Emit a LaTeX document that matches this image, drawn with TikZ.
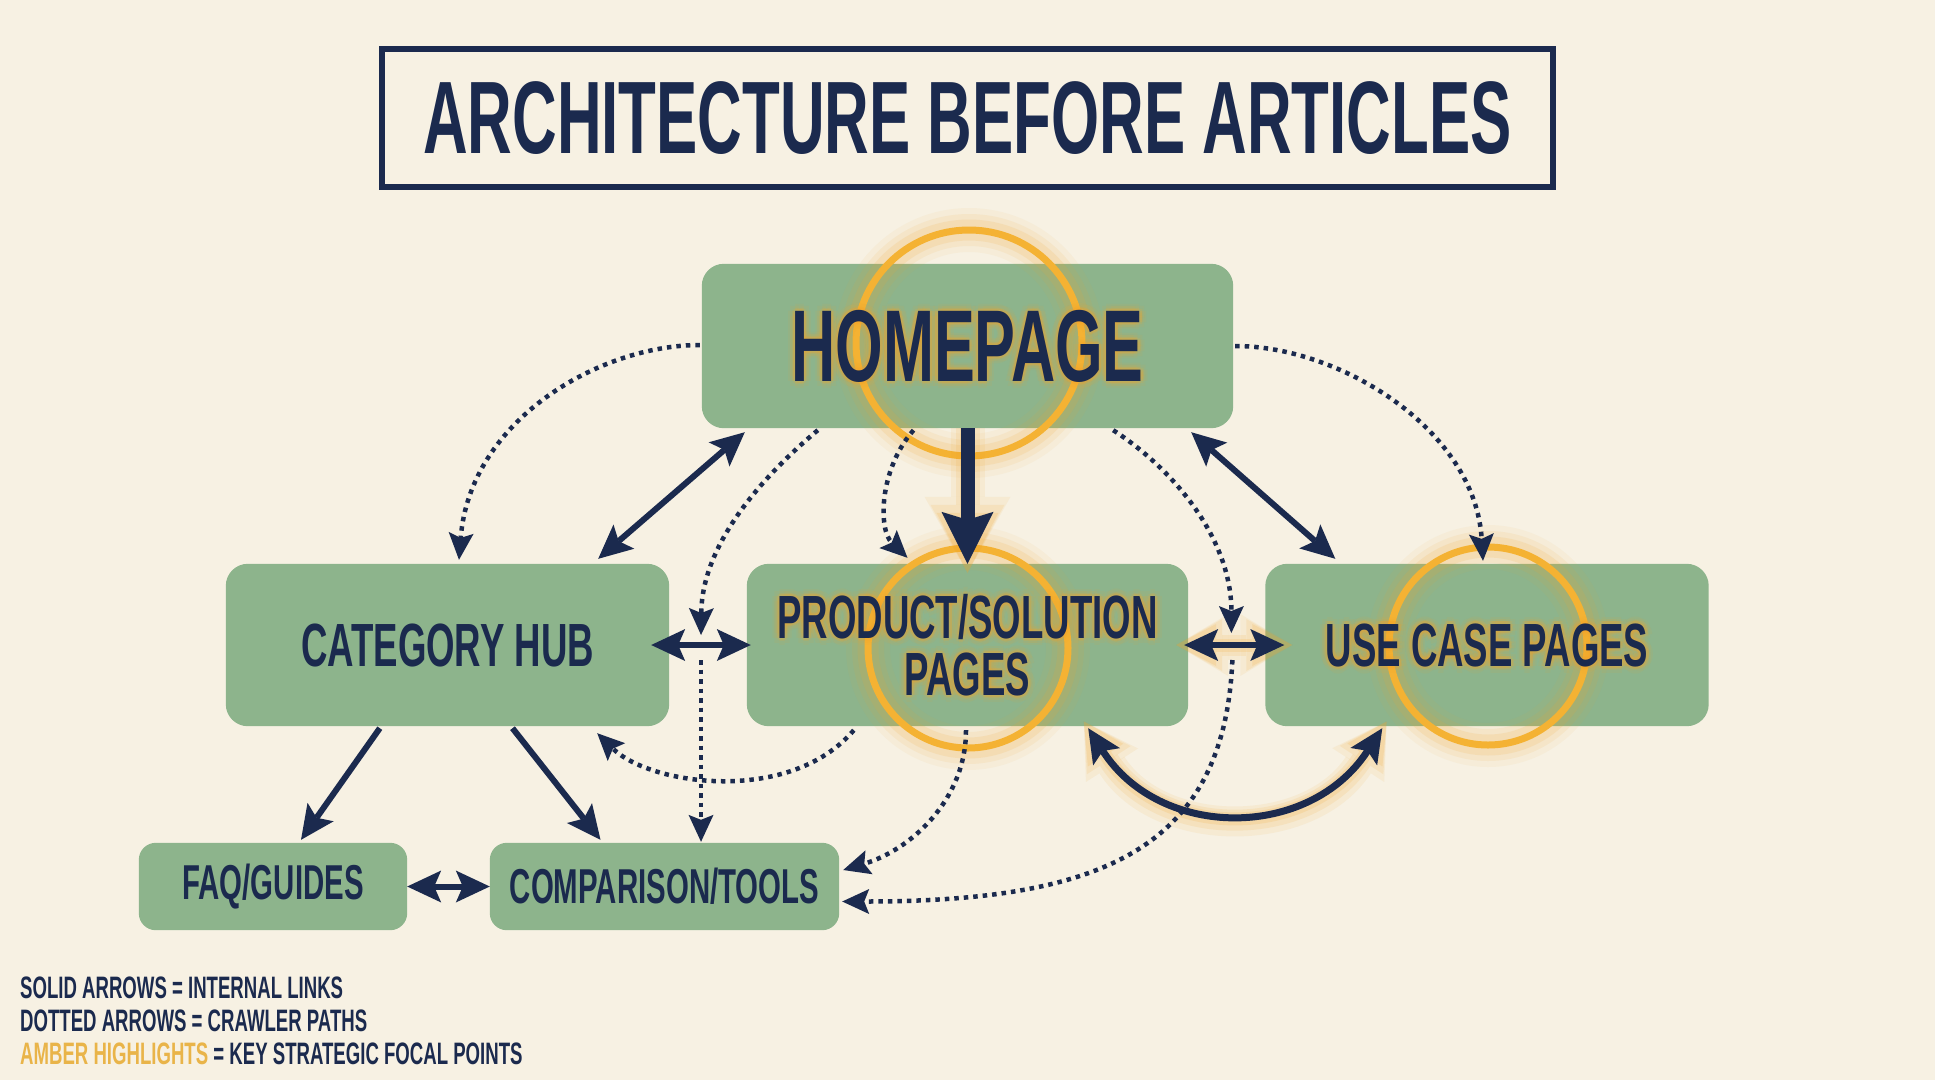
\documentclass[tikz,border=0pt]{standalone}
\usepackage{fontspec}
\newfontfamily\headfont[FakeStretch=0.6]{Liberation Sans}
\usetikzlibrary{arrows.meta,positioning,calc}
\definecolor{paper}{HTML}{F7F1E3}
\definecolor{sage}{HTML}{8DB48C}
\definecolor{navy}{HTML}{1B2A4E}
\definecolor{amber}{HTML}{F4B233}
\definecolor{amberglow}{HTML}{F2A52C}
\definecolor{legendamber}{HTML}{E9B449}
\pgfdeclarelayer{back}
\pgfdeclarelayer{mid}
\pgfsetlayers{back,mid,main}

\begin{document}
\begin{tikzpicture}[x=1pt, y=-1pt,
    >={Stealth[length=34pt,width=32pt,inset=7pt,line width=0pt]},
    boxtext/.style={inner sep=0pt, align=center, text=navy, minimum width=443, minimum height=162,
        font=\headfont\bfseries\fontsize{61}{57}\selectfont},
    smalltext/.style={boxtext, minimum width=268, minimum height=87,
        font=\headfont\bfseries\fontsize{49}{49}\selectfont},
    hometext/.style={boxtext, minimum width=531, minimum height=164,
        font=\headfont\bfseries\fontsize{102}{102}\selectfont},
    link/.style={draw=navy, line width=6pt},
    biglink/.style={draw=navy, line width=14pt, -{Stealth[length=52pt,width=52pt,inset=8pt,line width=0pt]}},
    crawl/.style={draw=navy, line width=4.5pt, dash pattern=on 4.5pt off 5pt,
        -{Stealth[length=27pt,width=25pt,inset=5pt,line width=0pt]}},
    glowln/.style={draw=amberglow, line width=#1, line cap=butt, line join=round},
    glowtext/.style={text=amberglow, opacity=#1}]
    \useasboundingbox (0,0) rectangle (1935,1080);

    % Title
    \node[draw=navy, line width=6pt, minimum width=1171, minimum height=138, inner sep=0pt, text=navy,
        font=\headfont\bfseries\fontsize{103}{103}\selectfont] (title) at (967.5,118) {ARCHITECTURE BEFORE ARTICLES};

    % Page boxes
    \node[hometext] (home) at (967.5,346) {HOMEPAGE};
    \node[boxtext] (cat) at (447.5,645) {CATEGORY HUB};
    \node[boxtext, minimum width=441] (prod) at (967.5,645) {PRODUCT/SOLUTION\\PAGES};
    \node[boxtext] (uc) at (1487,645) {USE CASE PAGES};
    \node[smalltext] (faq) at (273,886.5) {FAQ/GUIDES};
    \node[smalltext, minimum width=349] (comp) at (664.5,886.5) {COMPARISON/TOOLS};

    \coordinate (gapL) at ($(cat.east)!0.41!(prod.west)$);
    \coordinate (gapR) at ($(prod.east)!0.56!(uc.west)$);

    % Legend
    \node[anchor=north west, inner sep=0pt, align=left, text=navy,
        font=\headfont\bfseries\fontsize{31}{33}\selectfont] (legend) at (20,977)
        {SOLID ARROWS = INTERNAL LINKS\\DOTTED ARROWS = CRAWLER PATHS\\{\color{legendamber}AMBER HIGHLIGHTS} = KEY STRATEGIC FOCAL POINTS};

    \begin{pgfonlayer}{back}
        \fill[paper] (0,0) rectangle (1935,1080);
        \foreach \b in {home,cat,prod,uc}
            \fill[sage, rounded corners=22pt] (\b.north west) rectangle (\b.south east);
        \foreach \b in {faq,comp}
            \fill[sage, rounded corners=17pt] (\b.north west) rectangle (\b.south east);
    \end{pgfonlayer}

    \begin{pgfonlayer}{mid}
        % Amber focal circles
        \foreach \c/\dx/\dy/\r in {home/1.5/-3/113, prod/0.5/3/100, uc/1/1/99} {
            \foreach \w/\o in {44/0.06, 32/0.09, 21/0.13}
                \draw[amberglow, line width=\w pt, opacity=\o] ($(\c)+(\dx,\dy)$) circle[radius=\r pt];
            \draw[amber, line width=7pt] ($(\c)+(\dx,\dy)$) circle[radius=\r pt];
        }

        % Glow under key links
        \foreach \w/\o/\l/\s in {34/0.09/76/86, 24/0.12/68/74, 15/0.16/60/62}
            \draw[glowln=\w pt, opacity=\o, -{Triangle[length=\l pt,width=\s pt,line width=0pt]},
                shorten >=-9pt] (home.south) -- (prod.north);
        \foreach \w/\o/\l/\s in {30/0.09/52/62, 21/0.12/46/52, 13/0.16/40/42} {
            \draw[glowln=\w pt, opacity=\o, {Triangle[length=\l pt,width=\s pt,line width=0pt]}-{Triangle[length=\l pt,width=\s pt,line width=0pt]},
                shorten >=-8pt, shorten <=-8pt] ($(prod.east)+(-4,0)$) -- ($(uc.west)+(19,0)$);
            \draw[glowln=\w pt, opacity=\o, {Triangle[length=\l pt,width=\s pt,line width=0pt]}-{Triangle[length=\l pt,width=\s pt,line width=0pt]},
                shorten >=-8pt, shorten <=-8pt] ($(prod.south east)+(-100,2)$) .. controls +(72,112) and +(-73,112) .. ($(uc.south west)+(117,2)$);
        }

        % Solid links
        \draw[biglink] (home.south) -- (prod.north);
        \draw[link, <->] ($(home.south west)+(43,4)$) -- ($(cat.north east)+(-71,-5)$);
        \draw[link, <->] ($(home.south east)+(-42,4)$) -- ($(uc.north west)+(70,-5)$);
        \draw[link, <->] ($(cat.east)+(-18,0)$) -- ($(prod.west)+(4,0)$);
        \draw[link, <->] ($(prod.east)+(-4,0)$) -- ($(uc.west)+(19,0)$);
        \draw[link, ->] ($(cat.south west)+(154,2)$) -- ($(faq.north)+(28,-3)$);
        \draw[link, ->] ($(cat.south)+(65,2)$) -- ($(comp.north)+(-64,-3)$);
        \draw[link, <->] (faq.east) -- (comp.west);
        \draw[link, <->, line width=7pt] ($(prod.south east)+(-100,2)$) .. controls +(72,112) and +(-73,112) .. ($(uc.south west)+(117,2)$);

        % Crawler paths
        \draw[crawl] ($(home.west)+(-2,-1)$) .. controls +(-100,0) and +(11,-140) .. ($(cat.north)+(11.5,-4)$);
        \draw[crawl] ($(home.east)+(2,0)$) .. controls +(105,0) and +(-8,-131) .. ($(uc.north)+(-4,-3)$);
        \draw[crawl] ($(home.south west)+(116,2)$) .. controls +(-48,40) and +(1,-95) .. ($(gapL)+(0,-10)$);
        \draw[crawl] ($(gapL)+(0,15)$) -- ($(gapL |- comp.north)+(0,-1)$);
        \draw[crawl] ($(home.south)+(-54,2)$) .. controls +(-35,40) and +(-29,-28) .. ($(prod.north)+(-60,-6)$);
        \draw[crawl] ($(home.south east)+(-120,2)$) .. controls +(62,40) and +(0,-93) .. ($(gapR)+(0,-12)$);
        \draw[crawl] ($(gapR)+(1,15)$) .. controls +(-8,190) and +(258,0) .. ($(comp.east)+(3,15)$);
        \draw[crawl] ($(prod.south west)+(107,4)$) .. controls +(-64,75) and +(53,52) .. ($(cat.south east)+(-72,7)$);
        \draw[crawl] ($(prod.south)+(-1.5,4)$) .. controls +(0,70) and +(67,-20) .. ($(comp.east)+(4,-16.5)$);

        % Glow behind highlighted labels
        \foreach \a in {0,45,...,315}
            \foreach \r/\o in {3/0.15, 7/0.08} {
                \node[hometext, glowtext=\o] (homeglow\a-\r) at ($(home)+(\a:\r)$) {HOMEPAGE};
                \node[boxtext, minimum width=441, glowtext=\o] (prodglow\a-\r) at ($(prod)+(\a:\r)$) {PRODUCT/SOLUTION\\PAGES};
                \node[boxtext, glowtext=\o] (ucglow\a-\r) at ($(uc)+(\a:\r)$) {USE CASE PAGES};
            }
    \end{pgfonlayer}
\end{tikzpicture}
\end{document}
